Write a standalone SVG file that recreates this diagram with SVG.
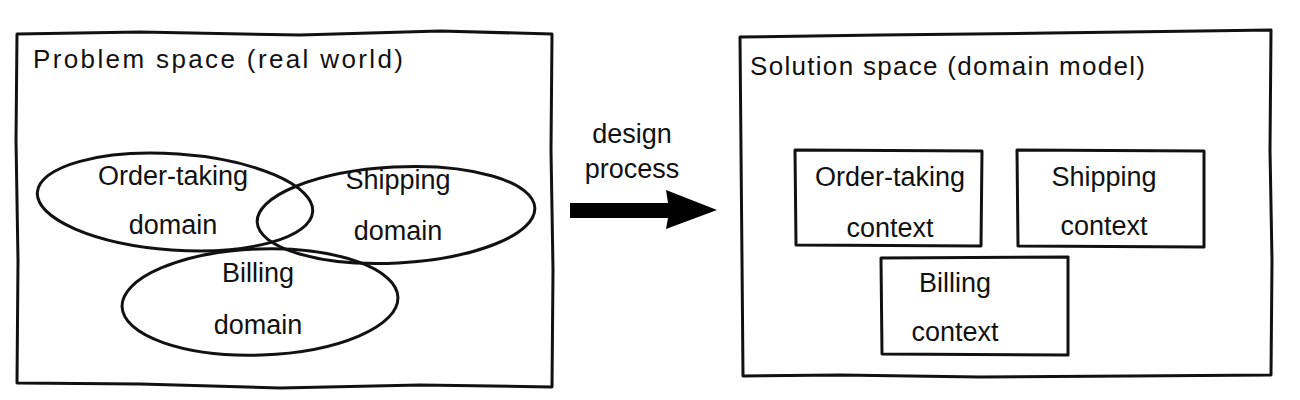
<svg xmlns="http://www.w3.org/2000/svg" width="1300" height="400" viewBox="0 0 1300 400">
<style>
.frame{fill:none;stroke:#111;stroke-width:3;stroke-linejoin:round}
.shape{fill:none;stroke:#111;stroke-width:3}
.t{font-family:"Liberation Sans","DejaVu Sans",sans-serif;font-size:27px;fill:#111;text-anchor:middle}
.title{font-family:"Liberation Sans","DejaVu Sans",sans-serif;font-size:26px;fill:#111}
</style>
<rect width="1300" height="400" fill="#fff"/>
<g id="problem-space">
<path class="frame" d="M17,34 L140,32 L300,35 L440,31 L552,34 L551,150 L553,270 L552,387 L420,385 L280,388 L140,384 L17,383 L18,260 L16,140 Z"/>
<text class="title" x="33" y="68" textLength="370" lengthAdjust="spacing">Problem space (real world)</text>
</g>
<g id="order-taking-domain">
<ellipse class="shape" cx="175" cy="202" rx="138" ry="48" transform="rotate(4 175 202)"/>
<text class="t" x="173" y="185">Order-taking</text>
<text class="t" x="173" y="234">domain</text>
</g>
<g id="shipping-domain">
<ellipse class="shape" cx="396" cy="215" rx="139" ry="48" transform="rotate(-3 396 215)"/>
<text class="t" x="398" y="189">Shipping</text>
<text class="t" x="398" y="240">domain</text>
</g>
<g id="billing-domain">
<ellipse class="shape" cx="260" cy="302" rx="138" ry="53" transform="rotate(-2 260 302)"/>
<text class="t" x="258" y="282">Billing</text>
<text class="t" x="258" y="334">domain</text>
</g>
<g id="connectors">
<path d="M570,203 L668,203 L666,190 L717,210 L666,229 L668,218 L570,218 Z" fill="#000"/>
<text class="t" x="632" y="143">design</text>
<text class="t" x="632" y="178">process</text>
</g>
<g id="solution-space">
<path class="frame" d="M740,37 L880,35 L1050,33 L1200,31 L1271,30 L1270,150 L1272,260 L1271,375 L1130,376 L980,377 L840,375 L743,376 L742,260 L741,150 Z"/>
<text class="title" x="750" y="75" textLength="395" lengthAdjust="spacing">Solution space (domain model)</text>
</g>
<g id="order-taking-context">
<path class="frame" d="M795,150 L982,151 L981,246 L796,245 Z"/>
<text class="t" x="890" y="186">Order-taking</text>
<text class="t" x="890" y="237">context</text>
</g>
<g id="shipping-context">
<path class="frame" d="M1017,150 L1204,151 L1204,247 L1018,246 Z"/>
<text class="t" x="1104" y="186">Shipping</text>
<text class="t" x="1104" y="235">context</text>
</g>
<g id="billing-context">
<path class="frame" d="M881,258 L1068,257 L1068,355 L882,354 Z"/>
<text class="t" x="955" y="292">Billing</text>
<text class="t" x="955" y="341">context</text>
</g>
</svg>
